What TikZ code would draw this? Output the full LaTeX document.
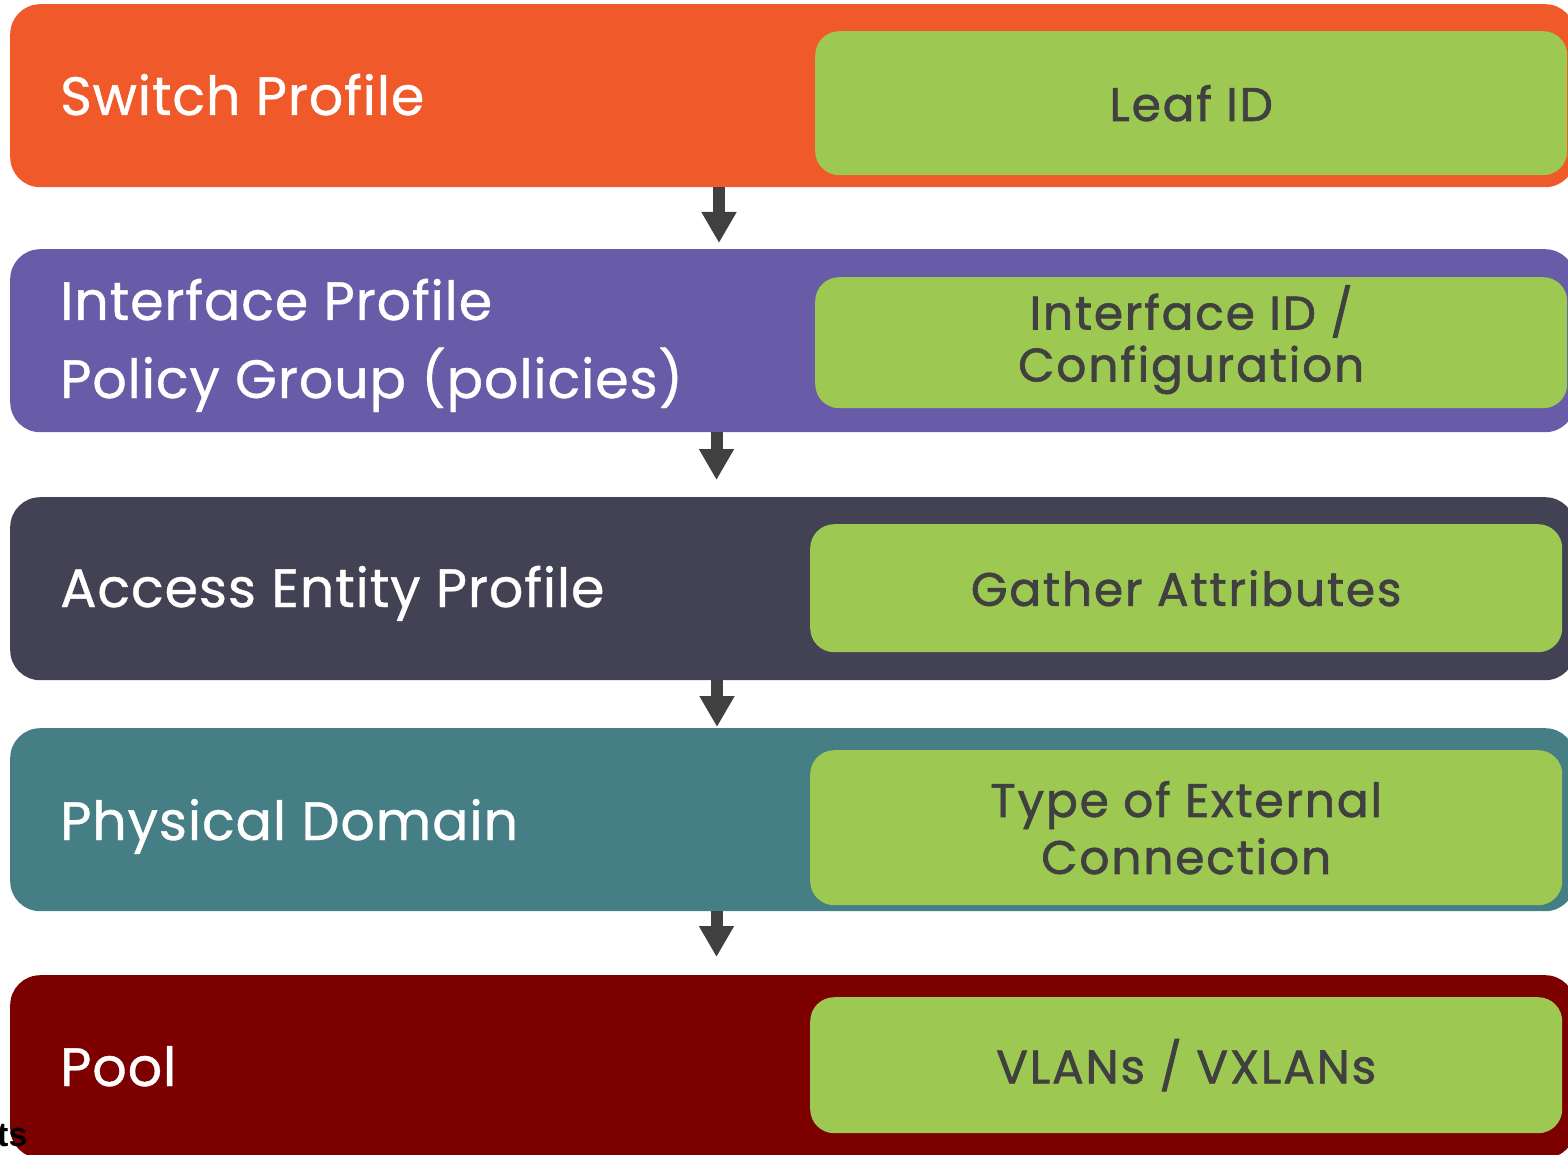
\documentclass[tikz,border=0pt]{standalone}
\usepackage{fontspec}
\setmainfont[FakeBold=0.7,LetterSpace=1.5]{Poppins}
\newfontfamily\greenfont[FakeBold=1.4,LetterSpace=4]{Poppins}
\newfontfamily\tsfont{Liberation Sans}
\usetikzlibrary{arrows.meta}
\definecolor{cOrange}{HTML}{F05A2B}
\definecolor{cPurple}{HTML}{685CA8}
\definecolor{cDark}{HTML}{424254}
\definecolor{cTeal}{HTML}{457E84}
\definecolor{cRed}{HTML}{7C0000}
\definecolor{cGreen}{HTML}{9DC852}
\definecolor{cText}{HTML}{404040}
\definecolor{cArrow}{HTML}{404040}
\tikzset{
  band/.style={rectangle, rounded corners=30pt, inner sep=0pt, minimum width=1565pt, minimum height=183pt, anchor=north west, draw=none},
  gbox/.style={rectangle, rounded corners=24pt, inner sep=0pt, minimum width=752pt, anchor=north west, fill=cGreen, draw=none, text=cText, align=center, font=\greenfont\fontsize{47}{52}\selectfont},
  gtext/.style={inner sep=0pt, text=cText, align=center, font=\greenfont\fontsize{47}{52}\selectfont},
  wlabel/.style={anchor=base west, inner sep=0pt, text=white, font=\fontsize{54}{60}\selectfont},
  flowarrow/.style={draw=cArrow, line width=12pt, -{Triangle[width=33pt,length=31pt]}, fill=cArrow}
}
\begin{document}
\begin{tikzpicture}[x=1pt,y=-1pt]
\useasboundingbox (0,0) rectangle (1568,1155);
\clip (0,0) rectangle (1568,1155);
% bands
\node[band, fill=cOrange] (b1) at (10,4) {};
\node[band, fill=cPurple] (b2) at (10,249) {};
\node[band, fill=cDark] (b3) at (10,497) {};
\node[band, fill=cTeal] (b4) at (10,728) {};
\node[band, fill=cRed] (b5) at (10,975) {};
% green boxes
\node[gbox, minimum height=144pt] (g1) at (815,31) {Leaf ID};
\node[gbox, minimum height=131pt] (g2) at (815,277) {};
\node[gtext] (g2t) at ([yshift=3pt]g2.center) {Interface ID /\\Configuration};
\node[gbox, minimum height=128pt] (g3) at (810,524) {Gather Attributes};
\node[gbox, minimum height=155pt, font=\greenfont\fontsize{47}{57}\selectfont] (g4) at (810,750) {Type of External\\Connection};
\node[gbox, minimum height=136pt] (g5) at (810,997) {VLANs / VXLANs};
% white labels
\node[wlabel] (l1) at (60,115) {Switch Profile};
\node[wlabel] (l2a) at (60,320) {Interface Profile};
\node[wlabel] (l2b) at (60,398) {Policy Group (policies)};
\node[wlabel] (l3) at (60,607) {Access Entity Profile};
\node[wlabel] (l4) at (60,840) {Physical Domain};
\node[wlabel] (l5) at (60,1086) {Pool};
% arrows
\coordinate (t1) at (719,243);
\coordinate (t2) at (716.5,480);
\coordinate (t3) at (717,727);
\coordinate (t4) at (716.5,957);
\draw[flowarrow] (b1.south -| t1) -- (t1);
\draw[flowarrow] (b2.south -| t2) -- (t2);
\draw[flowarrow] (b3.south -| t3) -- (t3);
\draw[flowarrow] (b4.south -| t4) -- (t4);
% stray text
\node[anchor=base west, inner sep=0pt, text=black, font=\tsfont\bfseries\fontsize{34}{40}\selectfont] (ts) at (-3,1146) {ts};
\end{tikzpicture}
\end{document}
